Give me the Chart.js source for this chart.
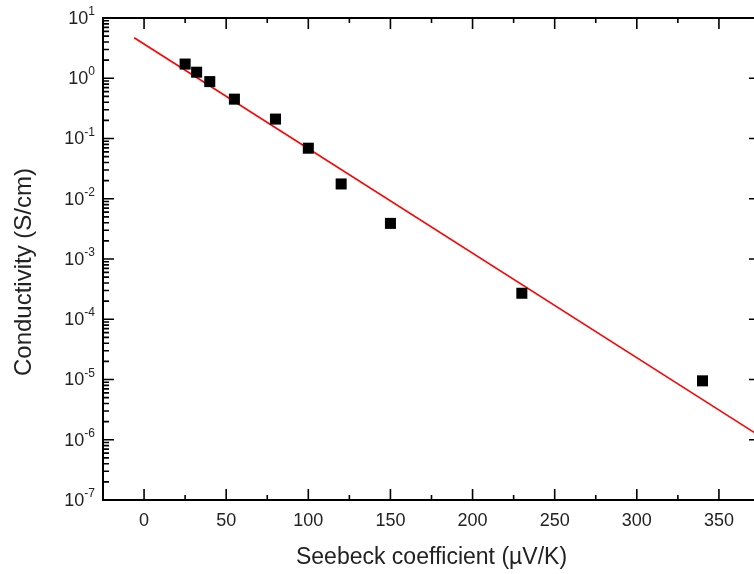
<!DOCTYPE html>
<html>
<head>
<meta charset="utf-8">
<script src="https://cdn.jsdelivr.net/npm/chart.js@4.4.1/dist/chart.umd.min.js"></script>
<style>
  html, body { margin: 0; padding: 0; background: #fff; overflow: hidden; }
  #wrap { position: absolute; left: 0; top: 0; width: 770px; height: 574px; }
</style>
</head>
<body>
<div id="wrap"><canvas id="chart" width="770" height="574"></canvas></div>
<script>
// measured points
let seebeck = [25, 32, 40, 55, 80, 100, 120, 150, 230, 340];
let conductivity = [1.72, 1.26, 0.88, 0.45, 0.21, 0.069, 0.0176, 0.0039, 2.7e-4, 9.5e-6];

// linear fit (straight on the log axis)
let fitX = [-6, 375];
let fitY = [4.7, 1.15e-6];

// axis ticks
let xMajor = [0, 50, 100, 150, 200, 250, 300, 350];
let xMinor = [25, 75, 125, 175, 225, 275, 325];
let yExponents = [1, 0, -1, -2, -3, -4, -5, -6, -7];

const FONT = "'Liberation Sans', Arial, Helvetica, sans-serif";
const TEXT = "#222";
const Y_TITLE = "Conductivity (S/cm)";

// **Frame, inward ticks, 10^n labels and y title**
const framePlugin = {
  id: "frame",
  afterDraw(chart) {
    let ctx = chart.ctx;
    let a = chart.chartArea;
    let xs = chart.scales.x, ys = chart.scales.y;
    ctx.save();
    ctx.strokeStyle = "#000";
    ctx.lineWidth = 1.6;

    // x ticks, bottom and top
    let tick = (px, len) => {
      ctx.beginPath();
      ctx.moveTo(px, a.bottom); ctx.lineTo(px, a.bottom - len);
      ctx.moveTo(px, a.top); ctx.lineTo(px, a.top + len);
      ctx.stroke();
    };
    xMajor.forEach(v => tick(xs.getPixelForValue(v), 11));
    xMinor.forEach(v => tick(xs.getPixelForValue(v), 5));

    // y ticks, left and right
    yExponents.forEach(e => {
      let py = ys.getPixelForValue(Math.pow(10, e));
      ctx.beginPath();
      ctx.moveTo(a.left, py); ctx.lineTo(a.left + 11, py);
      ctx.moveTo(a.right, py); ctx.lineTo(a.right - 11, py);
      ctx.stroke();
      if (e > -7) {
        for (let m = 2; m <= 9; m++) {
          let my = ys.getPixelForValue(m * Math.pow(10, e - 1));
          ctx.beginPath();
          ctx.moveTo(a.left, my); ctx.lineTo(a.left + 6, my);
          ctx.moveTo(a.right, my); ctx.lineTo(a.right - 6, my);
          ctx.stroke();
        }
      }
    });

    // frame
    ctx.lineWidth = 2;
    ctx.strokeRect(a.left, a.top, a.right - a.left, a.bottom - a.top);

    // y labels with superscript exponent
    ctx.fillStyle = TEXT;
    yExponents.forEach(e => {
      let py = ys.getPixelForValue(Math.pow(10, e));
      let exp = e < 0 ? "-" + Math.abs(e) : String(e);
      ctx.font = "12px " + FONT;
      let ew = ctx.measureText(exp).width;
      let baseRight = a.left - 8 - ew;
      ctx.textAlign = "left";
      ctx.textBaseline = "alphabetic";
      ctx.fillText(exp, baseRight, py - 3);
      ctx.font = "18px " + FONT;
      ctx.textAlign = "right";
      ctx.textBaseline = "middle";
      ctx.fillText("10", baseRight, py + 1);
    });

    // y title, rotated
    ctx.translate(24, 272);
    ctx.rotate(-Math.PI / 2);
    ctx.font = "24px " + FONT;
    ctx.textAlign = "center";
    ctx.textBaseline = "middle";
    ctx.fillText(Y_TITLE, 0, 0);
    ctx.restore();
  }
};

function setup() {
  let ctx = document.getElementById("chart").getContext("2d");
  new Chart(ctx, {
    type: "scatter",
    data: {
      datasets: [
        {
          label: "Fit",
          type: "line",
          data: fitX.map((x, i) => ({ x: x, y: fitY[i] })),
          borderColor: "#ff0000",
          borderWidth: 1.6,
          pointRadius: 0,
          fill: false,
          order: 2
        },
        {
          label: "Data",
          data: seebeck.map((x, i) => ({ x: x, y: conductivity[i] })),
          pointStyle: "rect",
          pointRadius: 7.8,
          backgroundColor: "#000",
          borderWidth: 0,
          order: 1
        }
      ]
    },
    options: {
      responsive: false,
      animation: false,
      layout: { padding: { left: 0, right: 10, top: 18, bottom: 0 } },
      plugins: { legend: { display: false }, tooltip: { enabled: false } },
      scales: {
        x: {
          type: "linear",
          min: -25,
          max: 375,
          afterBuildTicks: s => { s.ticks = xMajor.map(v => ({ value: v })); },
          afterFit: s => { s.height = 74; },
          grid: { display: false, drawTicks: false },
          border: { display: false },
          ticks: { autoSkip: false, padding: 10, color: TEXT, font: { family: FONT, size: 18 } },
          title: {
            display: true,
            text: "Seebeck coefficient (µV/K)",
            color: TEXT,
            font: { family: FONT, size: 23 },
            padding: { top: 0, bottom: 3 }
          }
        },
        y: {
          type: "logarithmic",
          min: 1e-7,
          max: 10,
          afterFit: s => { s.width = 103; },
          grid: { display: false, drawTicks: false },
          border: { display: false },
          ticks: { display: false },
          title: { display: false }
        }
      }
    },
    plugins: [framePlugin]
  });
}

window.addEventListener("DOMContentLoaded", setup);
</script>
</body>
</html>
